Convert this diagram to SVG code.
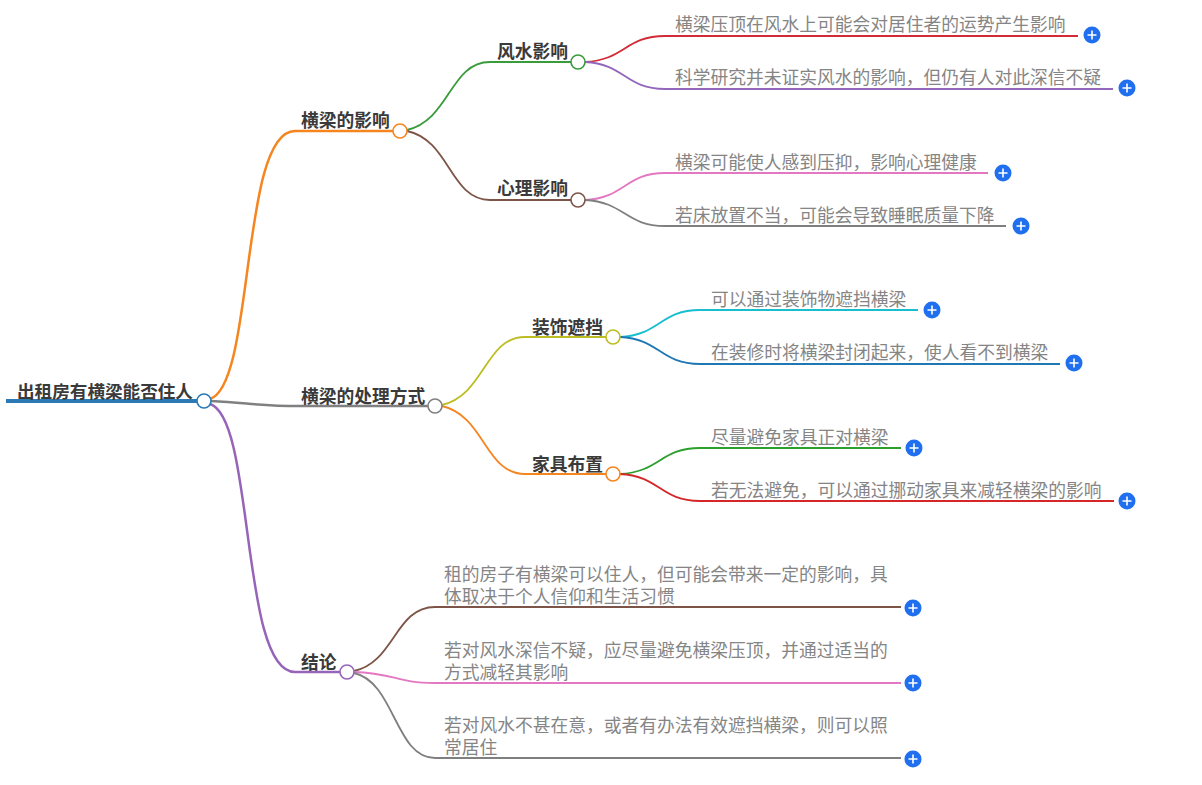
<svg xmlns="http://www.w3.org/2000/svg" width="1202" height="785" viewBox="0 0 1202 785">
<style>
text{font-family:"Liberation Sans","Noto Sans CJK SC",sans-serif}
.t1{font-size:17.6px;font-weight:700;fill:#3a3a3a}
.t2{font-size:17.75px;font-weight:700;fill:#3a3a3a}
.t3{font-size:17.75px;fill:#858585}
#connectors path{fill:none;stroke-width:1.8}
.dot{fill:#fff;stroke-width:1.6}
</style>
<defs>
<g id="p"><circle r="8.5" fill="#1f6fef"/><path d="M-4.5 0H4.500M0 -4.500V4.500" stroke="#fff" stroke-width="1.600" fill="none"/></g>
</defs>
<rect width="1202" height="785" fill="#fff"/>
<g id="connectors">
<path d="M6 401H204" stroke="#2b7ab5" style="stroke-width:4"/>
<path d="M210 399C255 385 240 131 295 131H393" stroke="#f5851f" style="stroke-width:2.500"/>
<path d="M211 401C250 403 260 406 300 406H428" stroke="#808080" style="stroke-width:2.500"/>
<path d="M210 404C255 418 240 672 295 672H340" stroke="#9664b8" style="stroke-width:2.500"/>
<path d="M407 130C450 120 450 62 490 62H571" stroke="#3a9b3a"/>
<path d="M407 131C450 140 450 200 490 200H571" stroke="#7d5548"/>
<path d="M585 62C625 60 625 36 665 36H1078" stroke="#d22b36"/>
<path d="M585 62C625 64 625 89 665 89H1113" stroke="#9467bd"/>
<path d="M585 200C625 198 625 173 665 173H988" stroke="#e377c2"/>
<path d="M585 200C625 202 625 226 665 226H1006" stroke="#7f7f7f"/>
<path d="M442 405C485 395 485 337 525 337H606" stroke="#bcbd22"/>
<path d="M442 406C485 416 485 474 525 474H606" stroke="#f5851f"/>
<path d="M620 337C660 335 660 310 700 310H918" stroke="#17becf"/>
<path d="M620 337C660 339 660 364 700 364H1060" stroke="#1f77b4"/>
<path d="M620 474C660 472 660 448 700 448H901" stroke="#2ca02c"/>
<path d="M620 474C660 476 660 501 700 501H1114" stroke="#d62728"/>
<path d="M354 671C395 662 395 607 435 607H901" stroke="#7d5548"/>
<path d="M354 672C395 673 395 683 435 683H901" stroke="#e377c2"/>
<path d="M354 673C395 682 395 758 435 758H901" stroke="#7f7f7f"/>
</g>
<g id="root"><text class="t1" x="17" y="398">出租房有横梁能否住人</text><circle class="dot" cx="204" cy="401" r="7" stroke="#2b7ab5"/></g>
<g id="n1"><text class="t2" x="301" y="127">横梁的影响</text><circle class="dot" cx="400" cy="131" r="7" stroke="#f5851f"/></g>
<g id="n2"><text class="t2" x="301" y="403">横梁的处理方式</text><circle class="dot" cx="435" cy="406" r="7" stroke="#808080"/></g>
<g id="n3"><text class="t2" x="301" y="669">结论</text><circle class="dot" cx="347" cy="672" r="7" stroke="#9664b8"/></g>
<g id="n11"><text class="t2" x="497" y="58">风水影响</text><circle class="dot" cx="578" cy="62" r="7" stroke="#3a9b3a"/></g>
<g id="n12"><text class="t2" x="497" y="195">心理影响</text><circle class="dot" cx="578" cy="200" r="7" stroke="#7d5548"/></g>
<g id="n21"><text class="t2" x="532" y="334">装饰遮挡</text><circle class="dot" cx="613" cy="337" r="7" stroke="#bcbd22"/></g>
<g id="n22"><text class="t2" x="532" y="471">家具布置</text><circle class="dot" cx="613" cy="474" r="7" stroke="#f5851f"/></g>
<g id="l1"><text class="t3" x="675" y="31">横梁压顶在风水上可能会对居住者的运势产生影响</text><use href="#p" x="1092" y="35"/></g>
<g id="l2"><text class="t3" x="675" y="84">科学研究并未证实风水的影响，但仍有人对此深信不疑</text><use href="#p" x="1127" y="88"/></g>
<g id="l3"><text class="t3" x="675" y="169">横梁可能使人感到压抑，影响心理健康</text><use href="#p" x="1003" y="173"/></g>
<g id="l4"><text class="t3" x="675" y="222">若床放置不当，可能会导致睡眠质量下降</text><use href="#p" x="1021" y="226"/></g>
<g id="l5"><text class="t3" x="711" y="306">可以通过装饰物遮挡横梁</text><use href="#p" x="932" y="310"/></g>
<g id="l6"><text class="t3" x="711" y="359">在装修时将横梁封闭起来，使人看不到横梁</text><use href="#p" x="1074" y="363"/></g>
<g id="l7"><text class="t3" x="711" y="444">尽量避免家具正对横梁</text><use href="#p" x="914" y="448"/></g>
<g id="l8"><text class="t3" x="711" y="497">若无法避免，可以通过挪动家具来减轻横梁的影响</text><use href="#p" x="1127" y="501"/></g>
<g id="l9"><text class="t3" x="444" y="581">租的房子有横梁可以住人，但可能会带来一定的影响，具</text><text class="t3" x="444" y="603">体取决于个人信仰和生活习惯</text><use href="#p" x="913" y="608"/></g>
<g id="l10"><text class="t3" x="444" y="657">若对风水深信不疑，应尽量避免横梁压顶，并通过适当的</text><text class="t3" x="444" y="679">方式减轻其影响</text><use href="#p" x="913" y="683"/></g>
<g id="l11"><text class="t3" x="444" y="732">若对风水不甚在意，或者有办法有效遮挡横梁，则可以照</text><text class="t3" x="444" y="754">常居住</text><use href="#p" x="913" y="759"/></g>
</svg>
